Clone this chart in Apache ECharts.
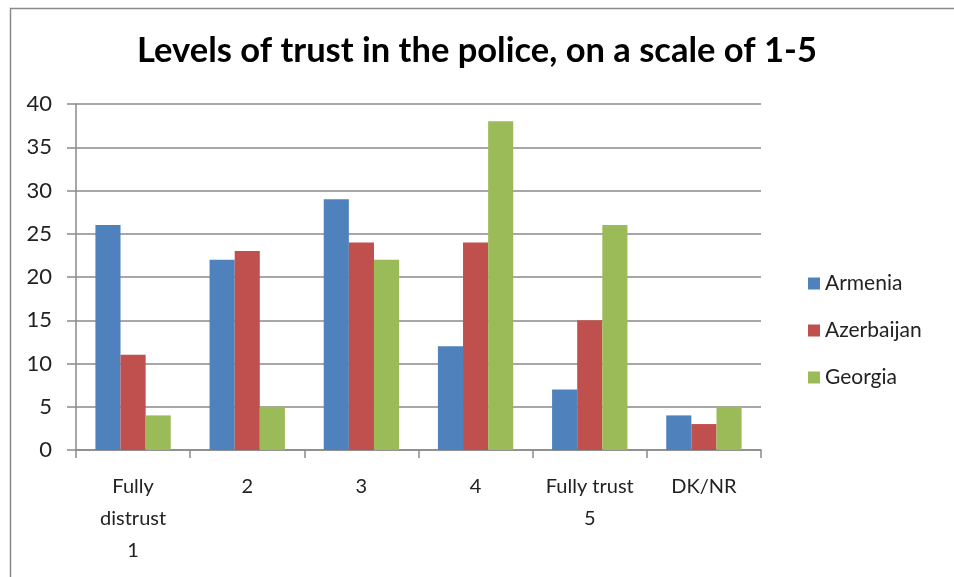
<!DOCTYPE html>
<html>
<head>
<meta charset="utf-8">
<script src="https://cdn.jsdelivr.net/npm/echarts@6/dist/echarts.min.js"></script>
<style>html,body{margin:0;padding:0;background:#fff;}#c{width:954px;height:577px;}</style>
</head>
<body>
<div id="c"></div>
<script>
const categories = ['Fully\ndistrust\n1', '2', '3', '4', 'Fully trust\n5', 'DK/NR'];
const armenia = [26, 22, 29, 12, 7, 4];
const azerbaijan = [11, 23, 24, 24, 15, 3];
const georgia = [4, 5, 22, 38, 26, 5];
const yTicks = { min: 0, max: 40, interval: 5 };

const chart = echarts.init(document.getElementById('c'), null, { renderer: 'canvas' });
const font = 'Lato, "Open Sans", sans-serif';
chart.setOption({
  animation: false,
  backgroundColor: '#fff',
  color: ['#4F81BD', '#C0504D', '#9BBB59'],
  graphic: [{
    type: 'rect', left: 8, top: 6,
    shape: { width: 960, height: 600 },
    style: { fill: 'none', stroke: '#8a8a8a', lineWidth: 1.5 },
    z: -1
  }],
  title: {
    text: 'Levels of trust in the police, on a scale of 1-5',
    left: 'center', top: 28,
    textStyle: { fontFamily: font, fontWeight: 'bold', fontSize: 34.5, color: '#000' }
  },
  legend: {
    orient: 'vertical', left: 803, top: 268,
    itemWidth: 12, itemHeight: 12, itemGap: 26,
    icon: 'rect',
    textStyle: { fontFamily: font, fontSize: 21, color: '#222', padding: [0, 0, 0, 0] },
    data: ['Armenia', 'Azerbaijan', 'Georgia']
  },
  grid: { left: 76, right: 193, top: 104, bottom: 127, containLabel: false },
  xAxis: {
    type: 'category', data: categories,
    axisLine: { lineStyle: { color: '#8a8a8a', width: 1.5 } },
    axisTick: { show: true, length: 8, lineStyle: { color: '#8a8a8a', width: 1.5 } },
    axisLabel: { fontFamily: font, fontSize: 20, color: '#222', lineHeight: 32, margin: 21, interval: 0 }
  },
  yAxis: {
    type: 'value', min: yTicks.min, max: yTicks.max, interval: yTicks.interval,
    axisLine: { show: true, lineStyle: { color: '#8a8a8a', width: 1.5 } },
    axisTick: { show: true, length: 9, lineStyle: { color: '#8a8a8a', width: 1.5 } },
    splitLine: { lineStyle: { color: '#8a8a8a', width: 1.5 } },
    axisLabel: { fontFamily: font, fontSize: 22, color: '#222', margin: 24 }
  },
  series: [
    { name: 'Armenia', type: 'bar', data: armenia, barGap: '0%', barCategoryGap: '34%' },
    { name: 'Azerbaijan', type: 'bar', data: azerbaijan, barGap: '0%', barCategoryGap: '34%' },
    { name: 'Georgia', type: 'bar', data: georgia, barGap: '0%', barCategoryGap: '34%' }
  ]
});
</script>
</body>
</html>
